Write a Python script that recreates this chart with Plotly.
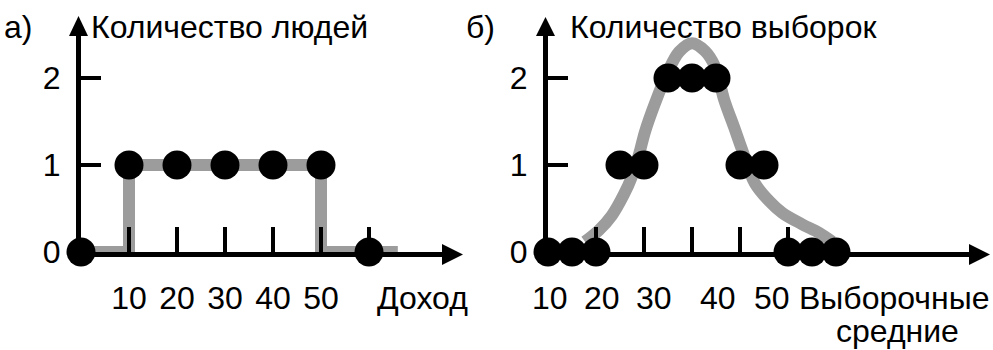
import plotly.graph_objects as go

# ---------------- data ----------------
# panel a) : income distribution of the population
income = [0, 10, 20, 30, 40, 50, 60]
people = [0, 1, 1, 1, 1, 1, 0]
step_income = [0, 10, 10, 50, 50, 66]
step_people = [0, 0, 1, 1, 0, 0]
income_ticks = [10, 20, 30, 40, 50, 60]
income_ticktext = ["10", "20", "30", "40", "50", ""]

# panel б) : distribution of sample means
sample_means = [0, 5, 10, 15, 20, 25, 30, 35, 40, 45, 50, 55, 60]
sample_counts = [0, 0, 0, 1, 1, 2, 2, 2, 1, 1, 0, 0, 0]
curve_x = [7.7, 10.6, 13.3, 15.8, 17.5, 19.0, 20.2, 22.3, 24.8, 27.3, 30.0,
           32.7, 34.8, 36.7, 38.8, 40.4, 43.1, 46.0, 48.8, 52.9, 56.5, 59.2]
curve_y = [0.12, 0.25, 0.42, 0.66, 0.87, 1.13, 1.38, 1.71, 2.05, 2.30, 2.40,
           2.31, 2.13, 1.75, 1.43, 1.18, 0.79, 0.59, 0.45, 0.32, 0.22, 0.12]
mean_ticks = [10, 20, 30, 40, 50]
mean_ticktext = ["10", "20", "30", "40", "50"]
# where the picture prints those labels along the axis
mean_label_at = [0.4, 11.3, 22.1, 35.4, 46.7]

count_ticks = [0, 1, 2]
count_ticktext = ["0", "1", "2"]

# ---------------- layout geometry (pixels) ----------------
W, H = 993, 350
PX_X = 4.8      # pixels per income unit
PX_Y = 87.0     # pixels per count unit
BOTTOM = 252    # y pixel of count 0
TOP = 30        # y pixel of top of plot area
L1, R1 = 81, 450
L2, R2 = 548, 975

def px(x):
    return x / W

def py(y):
    return 1 - y / H

FONT = "Liberation Sans, Arial, sans-serif"
FS = 32
GRAY = "#9c9c9c"

fig = go.Figure()

# panel a
fig.add_trace(go.Scatter(x=step_income, y=step_people, mode="lines",
                         line=dict(color=GRAY, width=12), xaxis="x", yaxis="y",
                         cliponaxis=False, hoverinfo="skip"))
fig.add_trace(go.Scatter(x=income, y=people, mode="markers",
                         marker=dict(color="black", size=29), xaxis="x", yaxis="y",
                         cliponaxis=False))
# panel б
fig.add_trace(go.Scatter(x=curve_x, y=curve_y, mode="lines", line_shape="spline",
                         line=dict(color=GRAY, width=12, smoothing=1.0),
                         xaxis="x2", yaxis="y2", cliponaxis=False, hoverinfo="skip"))
fig.add_trace(go.Scatter(x=sample_means, y=sample_counts, mode="markers",
                         marker=dict(color="black", size=29), xaxis="x2", yaxis="y2",
                         cliponaxis=False))

axis_common = dict(showline=True, linewidth=5, linecolor="black", ticks="inside",
                   tickwidth=4, tickcolor="black", showgrid=False, zeroline=False,
                   layer="above traces", tickfont=dict(family=FONT, size=FS, color="black"),
                   fixedrange=True, automargin=False)

yrange = [0, (BOTTOM - TOP) / PX_Y]
ydomain = [py(BOTTOM), py(TOP)]

fig.update_layout(
    width=W, height=H, margin=dict(l=0, r=0, t=0, b=0, autoexpand=False),
    paper_bgcolor="white", plot_bgcolor="white", showlegend=False,
    font=dict(family=FONT, size=FS, color="black"),
    xaxis=dict(domain=[px(L1), px(R1)], range=[0, (R1 - L1) / PX_X], anchor="y",
               tickvals=income_ticks, ticktext=income_ticktext, ticklen=25,
               ticklabelstandoff=14, **axis_common),
    yaxis=dict(domain=ydomain, range=yrange, anchor="x",
               tickvals=count_ticks, ticktext=count_ticktext, ticklen=20,
               ticklabelstandoff=9, **axis_common),
    xaxis2=dict(domain=[px(L2), px(R2)], range=[0, (R2 - L2) / PX_X], anchor="y2",
                tickvals=mean_ticks, ticktext=mean_ticktext, ticklen=25,
                showticklabels=False, **axis_common),
    yaxis2=dict(domain=ydomain, range=yrange, anchor="x2",
                tickvals=count_ticks, ticktext=count_ticktext, ticklen=20,
                ticklabelstandoff=9, **axis_common),
)

# arrow heads on the axes
def tri(points):
    d = "M " + " L ".join(f"{px(a)},{py(b)}" for a, b in points) + " Z"
    return dict(type="path", path=d, xref="paper", yref="paper",
                fillcolor="black", line=dict(width=0), layer="above")

shapes = [
    tri([(78.5, 16), (69, 36), (88, 36)]),
    tri([(545.5, 17), (536, 36), (555, 36)]),
    tri([(463, 254.5), (442, 244), (442, 265)]),
    tri([(990, 254.5), (969, 244), (969, 265)]),
]
fig.update_layout(shapes=shapes)

ann = []
def text(x, y, s, xanchor="center", xref="paper"):
    ann.append(dict(x=x, y=py(y), xref=xref, yref="paper", text=s, showarrow=False,
                    xanchor=xanchor, yanchor="middle",
                    font=dict(family=FONT, size=FS, color="black")))

text(px(2), 27, "а)", xanchor="left")
text(px(89), 27, "Количество людей", xanchor="left")
text(px(464), 27, "б)", xanchor="left")
text(px(568), 27, "Количество выборок", xanchor="left")
text(px(422), 298, "Доход")
text(px(992), 298, "Выборочные", xanchor="right")
text(px(897), 331, "средние")
for pos, lab in zip(mean_label_at, mean_ticktext):
    text(pos, 298, lab, xref="x2")

fig.update_layout(annotations=ann)

fig.write_html("out.html", config={"displayModeBar": False},
               post_script="document.body.style.margin='0';")
